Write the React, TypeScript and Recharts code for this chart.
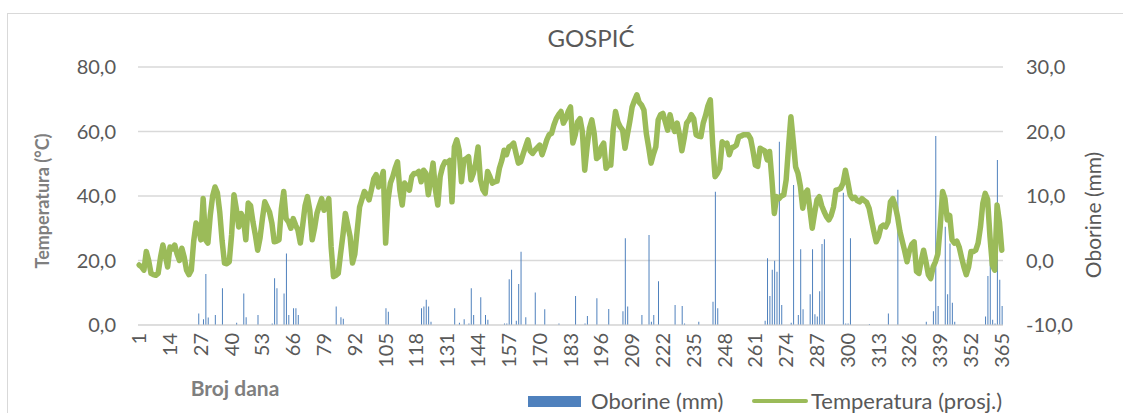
import React from 'react';
import { ComposedChart, Bar, Line, XAxis, YAxis, CartesianGrid } from 'recharts';

const FONT = 'Lato, "Open Sans", sans-serif';
const TEXT = '#595959';

// day of year 1..365 (category axis)
const DAYS = Array.from({ length: 365 }, (_, i) => i + 1);

// daily mean temperature (°C)
const TEMPERATURE = [
  -0.7, -1.0, -1.5, 1.4, 0.0, -2.0, -2.2, -2.3, -2.0, 0.5,
  2.4, 0.8, -1.0, 2.1, 1.8, 2.4, 1.0, 0.0, 1.9, 0.5,
  -1.5, -2.2, -1.5, 3.0, 5.8, 5.2, 3.2, 9.6, 3.2, 2.7,
  7.0, 10.0, 11.4, 10.5, 7.5, 3.0, -0.4, -0.5, -0.2, 4.0,
  10.2, 8.0, 5.2, 7.3, 6.5, 3.2, 8.9, 8.5, 6.0, 4.0,
  1.6, 3.5, 6.5, 9.1, 8.3, 7.5, 5.8, 2.9, 3.0, 3.2,
  8.0, 10.7, 6.5, 6.0, 5.0, 6.5, 5.5, 4.7, 2.7, 5.5,
  8.5, 9.9, 7.8, 3.2, 5.0, 7.3, 8.5, 9.6, 7.8, 8.5,
  9.6, 2.1, -2.5, -2.3, -2.0, 1.1, 4.0, 7.3, 5.5, 3.7,
  -0.4, 1.0, 4.7, 8.3, 9.5, 10.7, 10.2, 9.4, 11.0, 12.7,
  13.3, 11.4, 12.5, 13.8, 2.7, 9.4, 12.0, 13.0, 14.3, 15.3,
  10.9, 8.6, 12.0, 11.5, 10.9, 13.0, 13.5, 13.5, 13.8, 12.2,
  14.0, 13.5, 10.2, 12.5, 15.1, 11.0, 8.6, 13.0, 14.5, 15.3,
  15.2, 15.5, 9.1, 17.6, 18.7, 17.1, 12.2, 15.6, 15.8, 16.1,
  12.5, 13.5, 15.1, 17.6, 12.5, 11.0, 10.4, 13.8, 13.0, 12.0,
  12.2, 12.3, 14.3, 15.5, 17.1, 16.4, 17.6, 17.8, 18.2, 16.6,
  15.1, 15.3, 16.5, 17.6, 18.7, 17.0, 16.6, 17.1, 17.5, 17.9,
  16.4, 17.5, 18.7, 19.5, 19.7, 21.0, 22.0, 22.6, 23.1, 21.3,
  22.0, 23.1, 23.8, 18.2, 19.5, 21.5, 22.0, 20.0, 14.0, 17.6,
  20.5, 21.8, 19.7, 15.8, 16.1, 17.6, 18.2, 14.3, 14.8, 14.8,
  20.2, 23.1, 21.5, 20.7, 20.2, 17.4, 19.5, 21.5, 23.8, 24.8,
  25.7, 24.5, 24.1, 23.3, 19.7, 17.5, 15.1, 16.5, 17.6, 21.8,
  22.6, 22.8, 21.5, 20.2, 22.6, 21.0, 20.0, 21.3, 19.5, 17.0,
  19.0, 21.3, 21.8, 22.6, 22.0, 19.5, 19.3, 19.2, 21.3, 22.5,
  24.0, 24.9, 18.0, 13.0, 13.5, 14.3, 18.4, 18.0, 18.2, 16.4,
  17.5, 17.6, 17.9, 19.2, 19.3, 19.5, 19.5, 19.5, 18.9, 17.0,
  14.8, 14.6, 17.4, 17.2, 17.0, 15.6, 16.9, 12.5, 7.3, 9.9,
  9.6, 10.0, 10.2, 12.5, 17.6, 22.3, 18.5, 14.5, 13.5, 11.5,
  8.1, 10.4, 10.9, 8.0, 5.0, 7.3, 9.4, 9.9, 8.5, 7.6,
  6.8, 6.3, 7.0, 8.3, 10.9, 11.0, 11.2, 12.0, 14.0, 12.2,
  10.2, 9.6, 9.8, 9.3, 9.1, 9.6, 9.3, 9.0, 8.1, 6.3,
  4.5, 2.9, 3.7, 5.2, 5.5, 5.2, 6.0, 9.1, 9.6, 8.5,
  6.8, 4.5, 3.0, 1.5, -0.2, 1.5, 2.5, 2.9, -1.7, -2.0,
  0.0, 1.6, -0.2, -2.2, -2.8, -1.0, -0.2, 1.0, 5.2, 10.7,
  9.6, 6.3, 7.0, 3.2, 2.7, 3.0, 2.1, 0.5, -1.0, -2.2,
  -1.0, 1.4, 1.4, 1.6, 2.7, 5.2, 8.9, 10.4, 9.5, 3.7,
  -0.7, -1.5, 8.6, 6.0, 1.6,
];

// days with precipitation and the amount (mm)
const RAIN_DAY = [
  26, 28, 29, 30, 33, 36, 42, 45, 46, 51, 57, 58, 59, 62, 63, 64, 66, 67, 68, 84,
  86, 87, 105, 106, 120, 121, 122, 123, 124, 134, 136, 138, 140, 141, 142, 145, 147, 148, 155, 156,
  157, 158, 160, 161, 162, 164, 168, 172, 178, 185, 189, 190, 194, 199, 205, 206, 207, 213, 216, 217,
  218, 220, 227, 230, 231, 237, 243, 244, 245, 265, 266, 267, 268, 269, 270, 271, 272, 276, 277, 279,
  280, 281, 284, 285, 286, 287, 288, 289, 290, 298, 299, 300, 301, 309, 317, 321, 333, 336, 337, 338,
  341, 342, 343, 344, 345, 358, 359, 360, 361, 362, 363, 364, 365,
];
const RAIN_MM = [
  3.6, 1.8, 15.8, 2.3, 3.1, 11.4, 0.7, 9.8, 2.4, 3.1, 0.5, 14.5, 11.4, 9.8, 22.2, 3.1, 5.2, 5.2, 3.1, 5.7,
  2.4, 1.9, 5.2, 4.1, 5.2, 5.7, 7.8, 5.7, 1.0, 5.2, 0.7, 1.8, 0.5, 11.4, 3.1, 8.6, 3.1, 1.6, 0.5, 0.5,
  14.2, 17.1, 1.3, 12.7, 22.7, 2.4, 10.1, 4.9, 0.5, 9.0, 0.5, 2.8, 8.3, 5.0, 4.3, 26.9, 5.7, 3.1, 27.9, 1.0,
  3.1, 13.6, 6.2, 5.9, 0.5, 1.0, 7.2, 41.3, 5.2, 1.3, 20.7, 9.0, 17.1, 19.9, 16.5, 56.8, 6.2, 0.7, 43.4, 3.1,
  23.5, 4.9, 9.5, 23.5, 3.3, 2.6, 10.5, 25.1, 26.6, 41.0, 0.5, 0.5, 26.9, 0.3, 3.6, 41.9, 1.0, 4.3, 58.6, 5.9,
  30.5, 9.5, 25.3, 6.9, 1.0, 2.6, 15.2, 35.1, 1.6, 0.5, 51.2, 14.0, 5.9,
];

const LEFT_TICKS = [0, 20, 40, 60, 80];
const RIGHT_TICKS = [-10, 0, 10, 20, 30];

const rainByDay: Record<number, number> = {};
RAIN_DAY.forEach((d, i) => { rainByDay[d] = RAIN_MM[i]; });

const data = DAYS.map((day, i) => ({
  day,
  temp: TEMPERATURE[i],
  rain: rainByDay[day] ?? null,
}));

const fmt = (v: number) => v.toFixed(1).replace('.', ',');

// vertical day labels, reading bottom to top
const DayTick = (props: any) => {
  const { x, payload } = props;
  const tx = x + 7;
  const ty = 333;
  return (
    <text
      x={tx}
      y={ty}
      transform={`rotate(-90 ${tx} ${ty})`}
      textAnchor="end"
      fill={TEXT}
      fontSize={20}
      fontFamily={FONT}
    >
      {payload.value}
    </text>
  );
};

export default function App() {
  return (
    <div style={{ position: 'absolute', left: 0, top: 0, width: 1123, height: 413, overflow: 'hidden', background: '#fff', fontFamily: FONT }}>
      {/* chart frame */}
      <div style={{ position: 'absolute', left: 7, top: 13, width: 1300, height: 600, border: '1px solid #d9d9d9' }} />

      <div style={{ position: 'absolute', left: 0, top: 0 }}>
        <ComposedChart width={1123} height={413} data={data} margin={{ top: 67, right: 0, bottom: 0, left: 0 }}>
          <CartesianGrid yAxisId="left" vertical={false} stroke="#d9d9d9" strokeWidth={1.3} />
          <XAxis
            dataKey="day"
            interval={12}
            height={88}
            tick={<DayTick />}
            tickLine={false}
            axisLine={{ stroke: '#d9d9d9' }}
          />
          <YAxis
            yAxisId="left"
            width={138}
            domain={[0, 80]}
            ticks={LEFT_TICKS}
            tickFormatter={fmt}
            axisLine={false}
            tickLine={false}
            tickSize={0}
            tickMargin={22}
            tick={{ fill: TEXT, fontSize: 20, fontFamily: FONT }}
          />
          <YAxis
            yAxisId="right"
            orientation="right"
            width={120}
            domain={[-10, 30]}
            ticks={RIGHT_TICKS}
            tickFormatter={fmt}
            axisLine={false}
            tickLine={false}
            tickSize={0}
            tickMargin={23}
            tick={{ fill: TEXT, fontSize: 20, fontFamily: FONT }}
          />
          <Bar yAxisId="left" dataKey="rain" fill="#4f81bd" barSize={1} isAnimationActive={false} />
          <Line
            yAxisId="right"
            dataKey="temp"
            type="linear"
            stroke="#9bbb59"
            strokeWidth={5.5}
            strokeLinejoin="round"
            strokeLinecap="round"
            dot={false}
            activeDot={false}
            isAnimationActive={false}
          />
          <text x={591} y={47} textAnchor="middle" fill={TEXT} fontSize={24} fontFamily={FONT}>GOSPIĆ</text>
          <text
            x={49}
            y={201}
            transform="rotate(-90 49 201)"
            textAnchor="middle"
            fill="#7f7f7f"
            fontSize={18}
            fontWeight={700}
            fontFamily={FONT}
          >
            Temperatura (°C)
          </text>
          <text
            x={1101}
            y={215}
            transform="rotate(-90 1101 215)"
            textAnchor="middle"
            fill={TEXT}
            fontSize={21}
            fontFamily={FONT}
          >
            Oborine (mm)
          </text>
          <text x={235} y={396} textAnchor="middle" fill="#7f7f7f" fontSize={21} fontWeight={700} fontFamily={FONT}>
            Broj dana
          </text>
        </ComposedChart>
      </div>

      {/* legend */}
      <div style={{ position: 'absolute', left: 528, top: 396, width: 53, height: 11, background: '#4f81bd' }} />
      <div style={{ position: 'absolute', left: 591, top: 387, fontSize: 22, color: TEXT, lineHeight: '28px', whiteSpace: 'nowrap' }}>Oborine (mm)</div>
      <div style={{ position: 'absolute', left: 752, top: 399, width: 56, height: 4, borderRadius: 2, background: '#9bbb59' }} />
      <div style={{ position: 'absolute', left: 811, top: 387, fontSize: 22, color: TEXT, lineHeight: '28px', whiteSpace: 'nowrap' }}>Temperatura (prosj.)</div>
    </div>
  );
}
